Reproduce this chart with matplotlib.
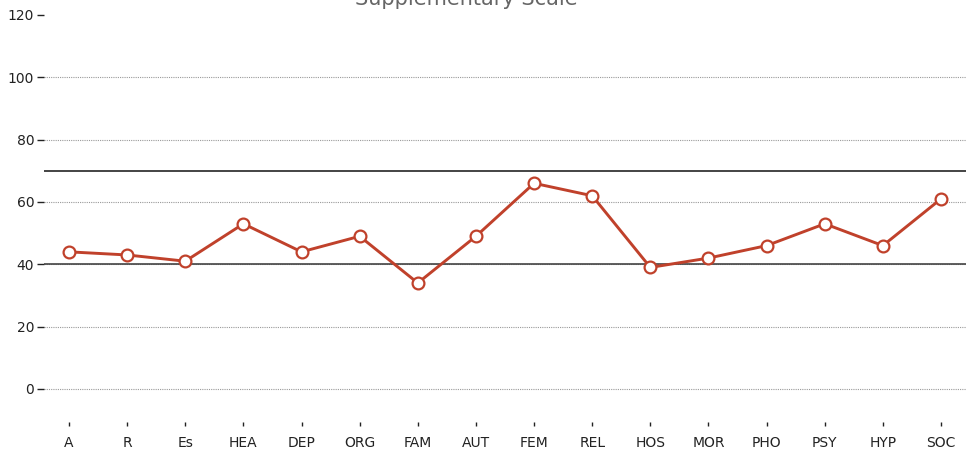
import matplotlib.pyplot as plt

categories = ["A", "R", "Es", "HEA", "DEP", "ORG", "FAM", "AUT",
              "FEM", "REL", "HOS", "MOR", "PHO", "PSY", "HYP", "SOC"]
scores = [44, 43, 41, 53, 44, 49, 34, 49, 66, 62, 39, 42, 46, 53, 46, 61]
y_ticks = [0, 20, 40, 60, 80, 100, 120]
ref_lines = [70, 40]

fig = plt.figure(figsize=(9.67, 4.54), dpi=100)
ax = fig.add_axes((44 / 967, 1 - 422 / 454, (966 - 44) / 967, (422 - 15) / 454))

x = list(range(len(categories)))
ax.set_xlim(-0.43, len(categories) - 1 + 0.43)
ax.set_ylim(-10.6, 120)

# dotted grid, solid reference band
for v in y_ticks[:-1]:
    ax.axhline(v, color="#999999", lw=0.8, ls=(0, (1, 1)), zorder=1)
ax.axhline(ref_lines[0], color="#111111", lw=1.1, zorder=2)
ax.axhline(ref_lines[1], color="#444444", lw=1.2, zorder=2)

ax.plot(x, scores, color="#c0412b", lw=2.1, marker="o", ms=8.5,
        mfc="white", mec="#c0412b", mew=1.6, zorder=3)

ax.set_xticks(x)
ax.set_xticklabels(categories)
ax.set_yticks(y_ticks)
ax.tick_params(axis="both", labelsize=10, colors="#222222", width=1)
ax.tick_params(axis="y", length=5, pad=2)
ax.tick_params(axis="x", length=3, pad=7)
for s in ax.spines.values():
    s.set_visible(False)

fig.text(466 / 967, 1 - 5 / 454, "Supplementary Scale", ha="center",
         va="baseline", fontsize=15, color="#666666")

fig.savefig("out.png", dpi=100)
